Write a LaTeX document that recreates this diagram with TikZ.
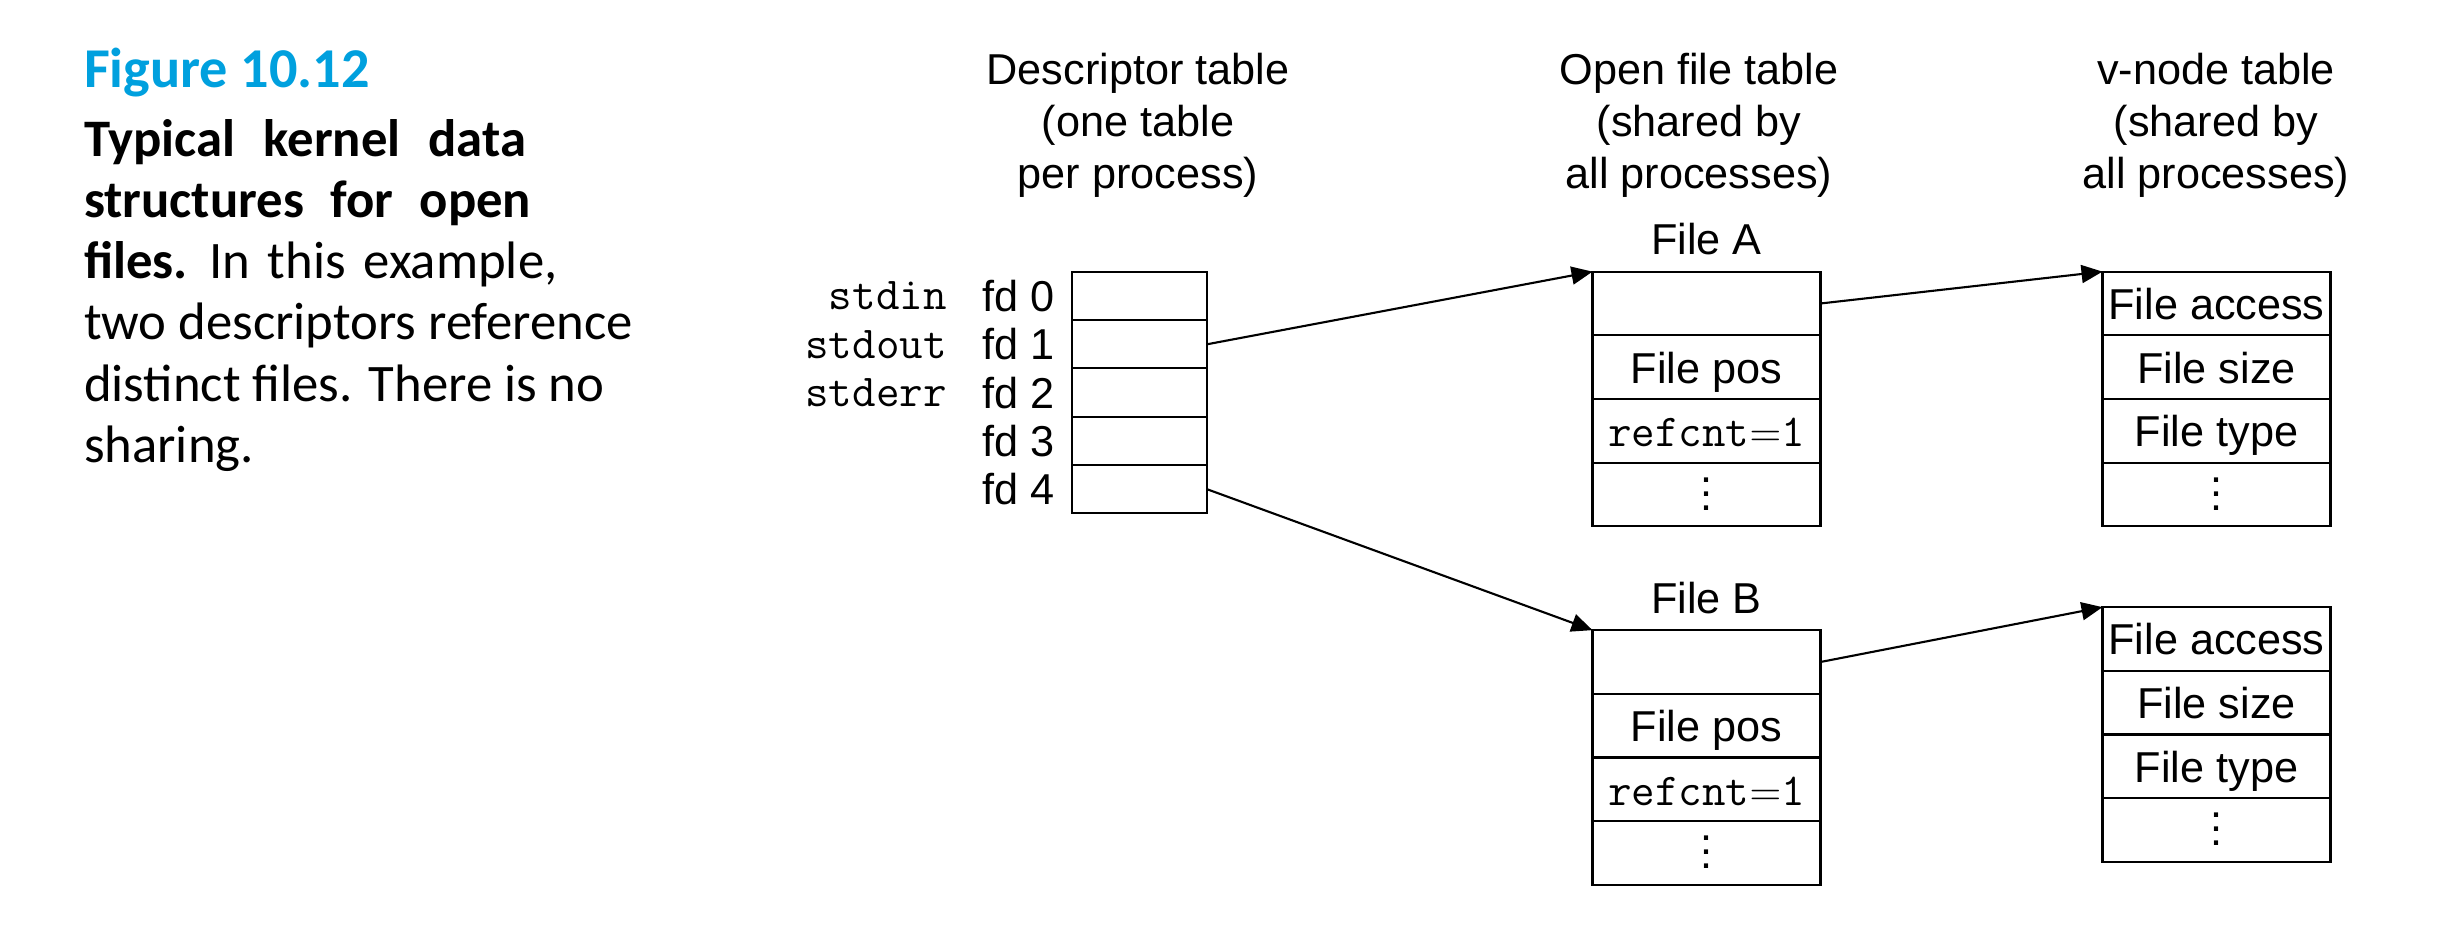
\documentclass[tikz,border=0pt]{standalone}
\usepackage{fontspec}
\setmainfont{Liberation Sans}
\newfontfamily\capfont{Carlito}
\usetikzlibrary{positioning,arrows.meta}
\definecolor{figblue}{RGB}{0,160,222}
% one column of four cells: prefix, x, y of first cell, then the four texts
\newcommand{\fourcells}[7]{
  \node[ocell] (#1-1) at (#2,#3) {#4};
  \node[ocell,below=0pt of #1-1] (#1-2) {#5};
  \node[ocell,below=0pt of #1-2] (#1-3) {#6};
  \node[ocell,below=0pt of #1-3] (#1-4) {#7};}
\newcommand{\refcnt}{{\fontsize{13}{15}\selectfont\ttfamily refcnt$=$1}}

\begin{document}
\begin{tikzpicture}[font=\fontsize{12.3}{14.8}\selectfont, line width=0.6pt,
    dcell/.style={draw,minimum width=1.35cm,minimum height=0.483cm,inner sep=0pt,outer sep=0pt},
    ocell/.style={draw,minimum width=2.28cm,minimum height=0.637cm,inner sep=0pt,outer sep=0pt,
      text height=9pt,text depth=0pt},
    head/.style={align=center},
    stdname/.style={font=\fontsize{13}{15}\selectfont\ttfamily},
    arr/.style={-{Triangle[length=2.1mm,width=1.8mm]}}]
    \useasboundingbox (0,0) rectangle (24.64,9.38);
    % caption
    \node[anchor=north west,inner sep=0pt,align=left,font=\capfont\fontsize{15}{17.4}\selectfont] (cap) at (0.83,8.91)
      {\textcolor{figblue}{\fontsize{16}{17.4}\selectfont\bfseries Figure 10.12}\\[2.2pt]
       \bfseries\spaceskip=8pt Typical kernel data\\
       \bfseries\spaceskip=7.5pt structures for open\\
       \spaceskip=5pt\textbf{files.} In this example,\\
       two descriptors reference\\
       distinct files. There is no\\
       sharing.};
    % descriptor table
    \foreach \i in {0,...,4}{
      \node[dcell] (d\i) at (11.395,{6.42-0.483*\i}) {};
      \node[left=0.05cm of d\i] (fd\i) {fd \i};
    }
    \node[stdname,left=0.1cm of fd0] (sin) {stdin};
    \node[stdname,left=0.1cm of fd1] (sout) {stdout};
    \node[stdname,left=0.1cm of fd2] (serr) {stderr};
    \node[head] (dhead) at (11.38,8.13) {Descriptor table\\(one table\\per process)};
    % open file table
    \fourcells{fa}{17.065}{6.345}{}{File pos}{\refcnt}{$\vdots$}
    \fourcells{fb}{17.065}{2.76}{}{File pos}{\refcnt}{$\vdots$}
    \node[above=1pt of fa-1] (fal) {File A};
    \node[above=1pt of fb-1] (fbl) {File B};
    \node[head] (ohead) at (16.99,8.13) {Open file table\\(shared by\\all processes)};
    % v-node table
    \fourcells{va}{22.165}{6.345}{File access}{File size}{File type}{$\vdots$}
    \fourcells{vb}{22.165}{2.99}{File access}{File size}{File type}{$\vdots$}
    \node[head] (vhead) at (22.16,8.13) {v-node table\\(shared by\\all processes)};
    % pointers
    \draw[arr] (d1.east) -- (fa-1.north west);
    \draw[arr] (d4.east) -- (fb-1.north west);
    \draw[arr] (fa-1.east) -- (va-1.north west);
    \draw[arr] (fb-1.east) -- (vb-1.north west);
\end{tikzpicture}
\end{document}
